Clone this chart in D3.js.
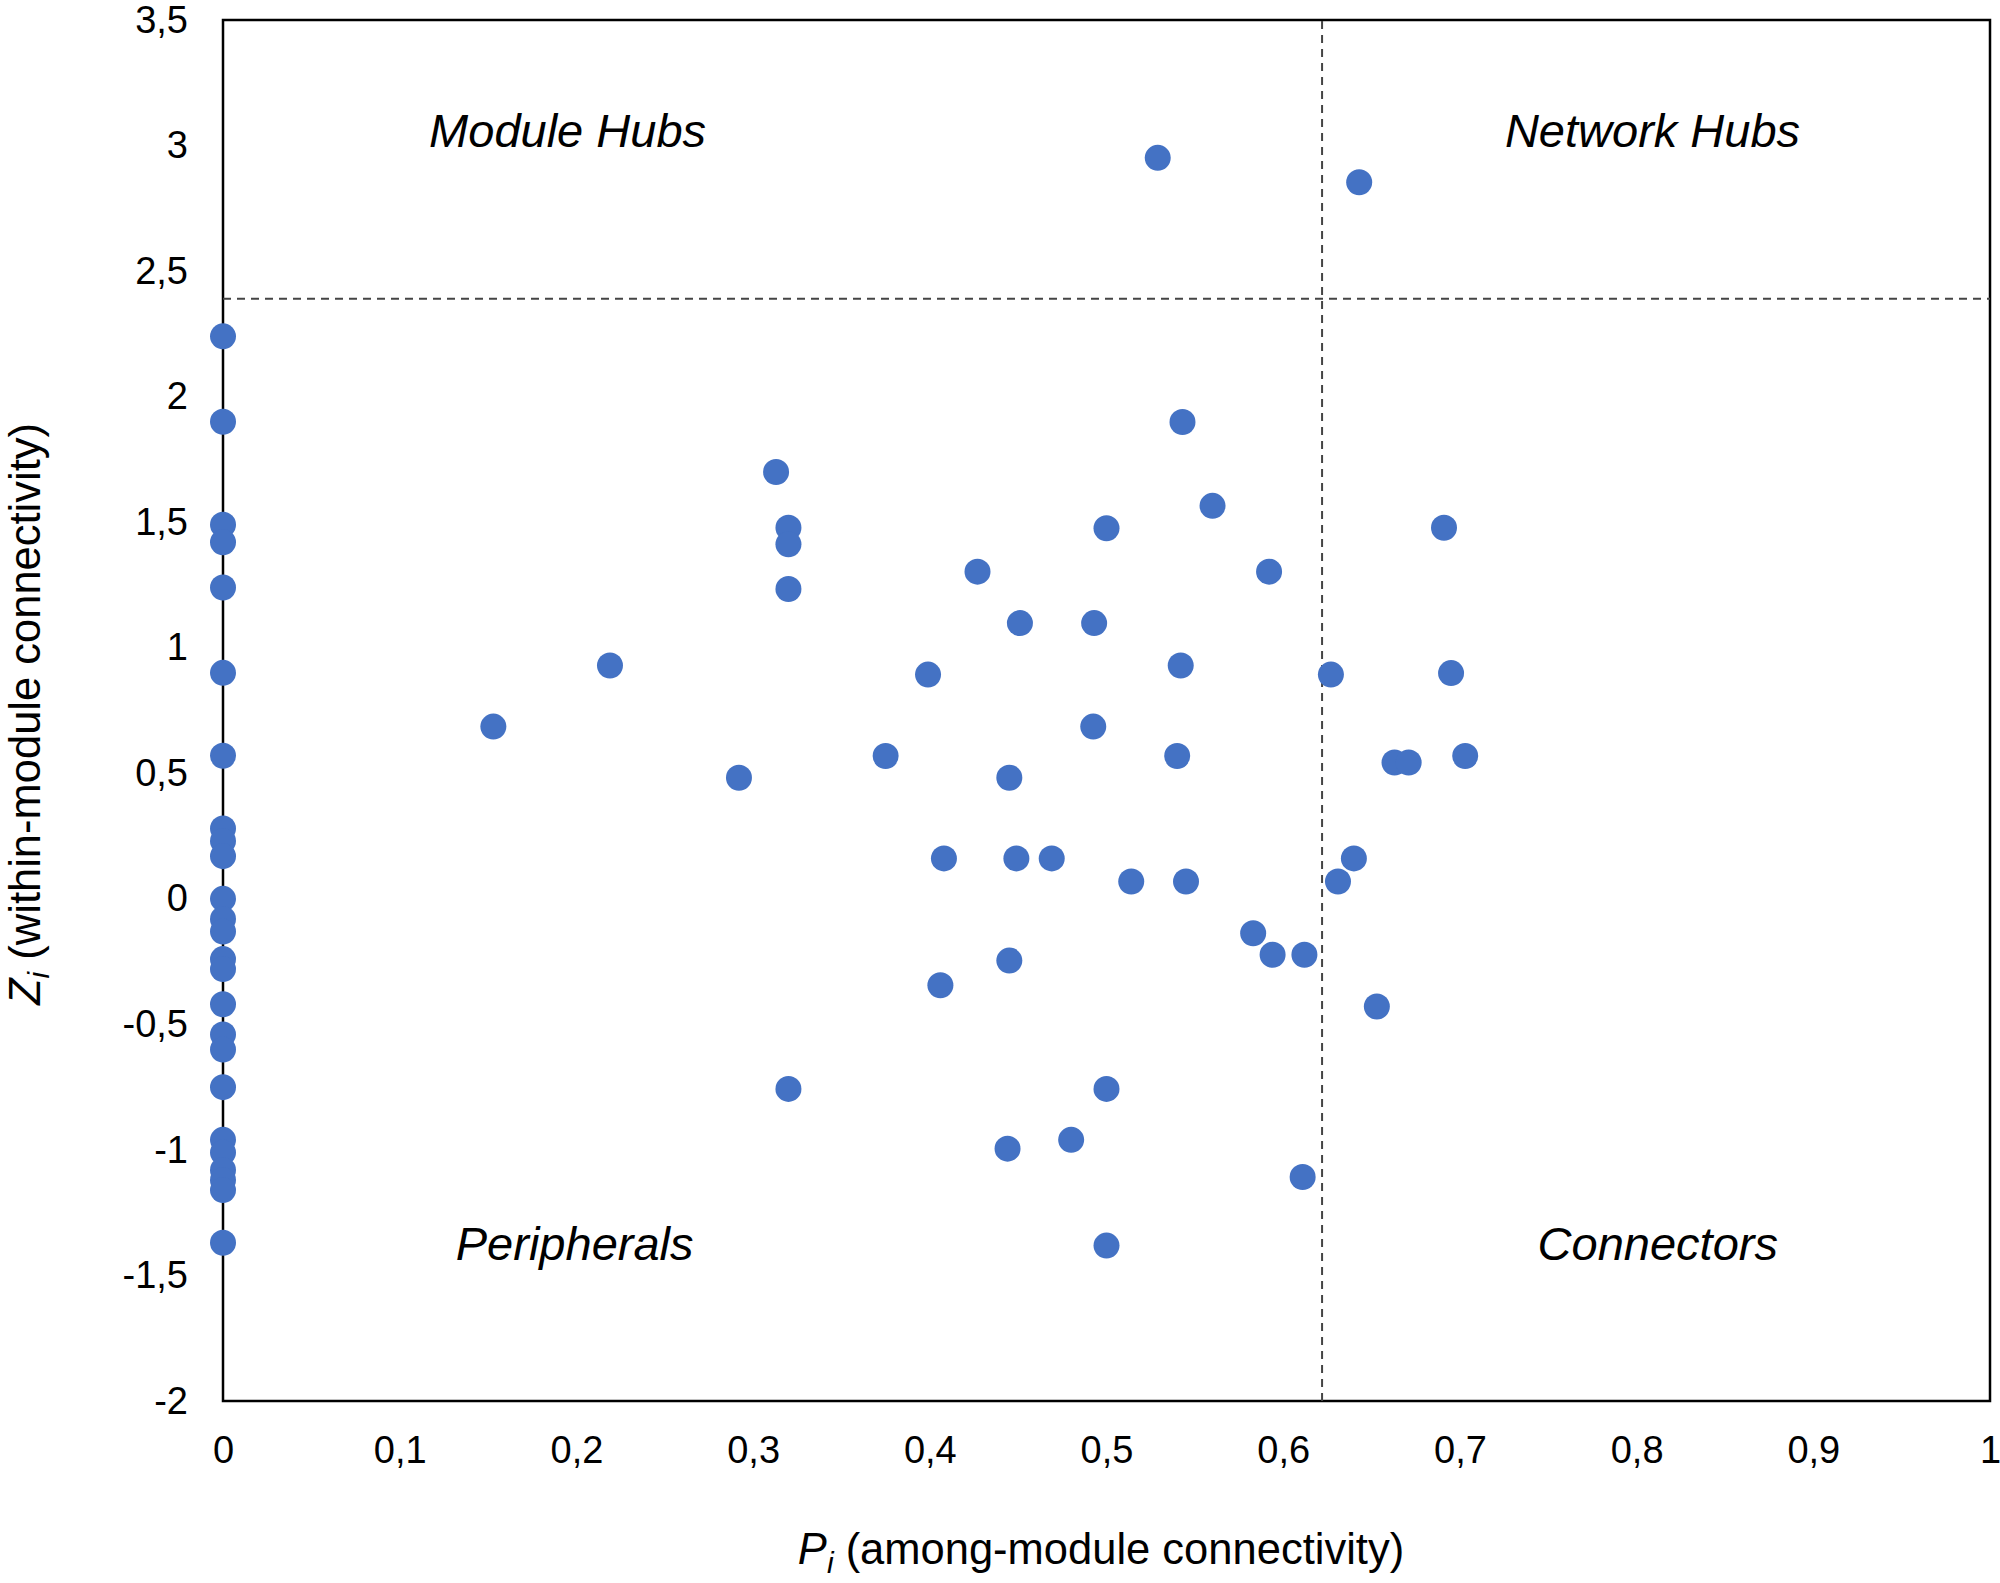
<!DOCTYPE html>
<html>
<head>
<meta charset="utf-8">
<script src="https://cdn.jsdelivr.net/npm/d3@7"></script>
<style>
  html, body { margin: 0; padding: 0; background: #fff; }
  svg { display: block; font-family: "Liberation Sans", Arial, Helvetica, sans-serif; }
</style>
</head>
<body>
<svg id="chart" width="2000" height="1583"></svg>
<script>
// ---- data ----
// nodes sitting on the Pi = 0 axis, then the scattered nodes
const pValues = [
  0, 0, 0, 0, 0, 0, 0, 0, 0, 0, 0, 0, 0, 0, 0, 0, 0, 0, 0, 0, 0, 0, 0, 0, 0,
  0.153, 0.219, 0.292, 0.313, 0.320, 0.320, 0.320, 0.320, 0.375, 0.399,
  0.408, 0.406, 0.427, 0.445, 0.445, 0.444, 0.451, 0.449, 0.469, 0.480,
  0.493, 0.4925, 0.500, 0.500, 0.500, 0.514, 0.529, 0.543, 0.542, 0.540,
  0.545, 0.560, 0.583, 0.592, 0.594, 0.612, 0.611, 0.627, 0.631, 0.640,
  0.643, 0.653, 0.663, 0.671, 0.691, 0.695, 0.703
];
const zValues = [
  2.24, 1.90, 1.49, 1.42, 1.24, 0.90, 0.57, 0.28, 0.23, 0.17, 0, -0.08, -0.13,
  -0.24, -0.28, -0.42, -0.54, -0.60, -0.75, -0.96, -1.01, -1.08, -1.12, -1.16, -1.37,
  0.686, 0.929, 0.482, 1.70, 1.478, 1.412, 1.234, -0.757, 0.569, 0.893,
  0.161, -0.344, 1.303, 0.482, -0.246, -0.995, 1.098, 0.161, 0.161, -0.96,
  1.098, 0.686, 1.476, -0.757, -1.381, 0.069, 2.951, 1.899, 0.929, 0.569,
  0.069, 1.565, -0.137, 1.303, -0.223, -0.223, -1.108, 0.893, 0.069, 0.161,
  2.854, -0.429, 0.543, 0.543, 1.478, 0.899, 0.569
];

const xTicks = [0, 0.1, 0.2, 0.3, 0.4, 0.5, 0.6, 0.7, 0.8, 0.9, 1];
const yTicks = [-2, -1.5, -1, -0.5, 0, 0.5, 1, 1.5, 2, 2.5, 3, 3.5];

// role thresholds (dashed lines)
const pThreshold = 0.622;
const zThreshold = 2.39;

// quadrant names and where they sit (data units)
const roleNames = ["Module Hubs", "Network Hubs", "Peripherals", "Connectors"];
const roleP = [0.195, 0.809, 0.199, 0.812];
const roleZ = [2.995, 2.995, -1.438, -1.438];

// ---- layout ----
const svg = d3.select("#chart");
const width = +svg.attr("width");
const height = +svg.attr("height");
const margin = {top: 20, right: 10, bottom: 182, left: 223};

const x = d3.scaleLinear()
  .domain([0, 1])
  .range([margin.left, width - margin.right]);

const y = d3.scaleLinear()
  .domain([-2, 3.5])
  .range([height - margin.bottom, margin.top]);

const fmt = d => String(d).replace(".", ",");

// x axis labels
const xAxis = svg.append("g")
  .attr("transform", `translate(0,${height - margin.bottom})`)
  .call(d3.axisBottom(x).tickValues(xTicks).tickSize(0).tickPadding(35).tickFormat(fmt));
xAxis.select(".domain").remove();
xAxis.selectAll("text")
  .attr("font-size", 38)
  .attr("font-family", "Liberation Sans, Arial, sans-serif")
  .attr("fill", "#000");

// y axis labels
const yAxis = svg.append("g")
  .attr("transform", `translate(${margin.left},0)`)
  .call(d3.axisLeft(y).tickValues(yTicks).tickSize(0).tickPadding(35).tickFormat(fmt));
yAxis.select(".domain").remove();
yAxis.selectAll("text")
  .attr("font-size", 38)
  .attr("font-family", "Liberation Sans, Arial, sans-serif")
  .attr("fill", "#000");

// frame
svg.append("rect")
  .attr("x", x(0))
  .attr("y", y(3.5))
  .attr("width", x(1) - x(0))
  .attr("height", y(-2) - y(3.5))
  .attr("fill", "none")
  .attr("stroke", "#000")
  .attr("stroke-width", 2.5);

// threshold lines
svg.append("line")
  .attr("x1", x(0)).attr("x2", x(1))
  .attr("y1", y(zThreshold)).attr("y2", y(zThreshold))
  .attr("stroke", "#444")
  .attr("stroke-width", 2)
  .attr("stroke-dasharray", "8,6");

svg.append("line")
  .attr("x1", x(pThreshold)).attr("x2", x(pThreshold))
  .attr("y1", y(-2)).attr("y2", y(3.5))
  .attr("stroke", "#444")
  .attr("stroke-width", 2)
  .attr("stroke-dasharray", "8,6");

// quadrant names
svg.append("g")
  .selectAll("text")
  .data(roleNames)
  .join("text")
  .attr("x", (d, i) => x(roleP[i]))
  .attr("y", (d, i) => y(roleZ[i]))
  .attr("text-anchor", "middle")
  .attr("font-size", 47)
  .attr("font-style", "italic")
  .attr("fill", "#000")
  .text(d => d);

// nodes
svg.append("g")
  .selectAll("circle")
  .data(pValues)
  .join("circle")
  .attr("cx", d => x(d))
  .attr("cy", (d, i) => y(zValues[i]))
  .attr("r", 13)
  .attr("fill", "#4472c4");

// axis titles
const xTitle = svg.append("text")
  .attr("x", 1101)
  .attr("y", 1564)
  .attr("text-anchor", "middle")
  .attr("font-size", 43.5)
  .attr("fill", "#000");
xTitle.append("tspan").attr("font-style", "italic").text("P");
xTitle.append("tspan").attr("font-style", "italic").attr("font-size", 30).attr("dy", 9).text("i");
xTitle.append("tspan").attr("dy", -9).text(" (among-module connectivity)");

const yTitle = svg.append("text")
  .attr("transform", "translate(40,714) rotate(-90)")
  .attr("text-anchor", "middle")
  .attr("font-size", 43.5)
  .attr("fill", "#000");
yTitle.append("tspan").attr("font-style", "italic").text("Z");
yTitle.append("tspan").attr("font-style", "italic").attr("font-size", 30).attr("dy", 9).text("i");
yTitle.append("tspan").attr("dy", -9).text(" (within-module connectivity)");
</script>
</body>
</html>
